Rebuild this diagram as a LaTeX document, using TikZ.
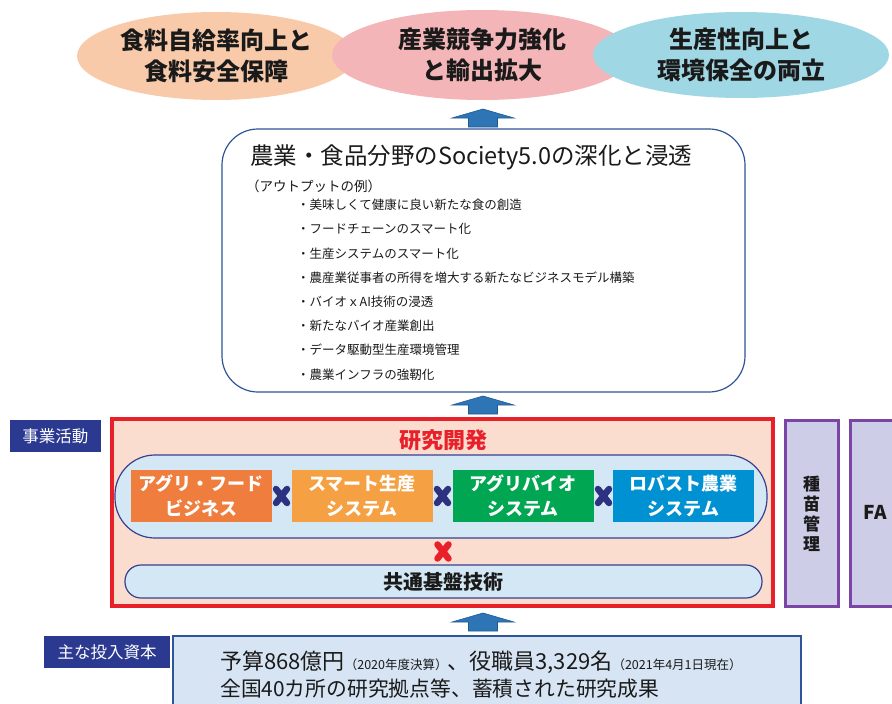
\documentclass[tikz,border=0pt]{standalone}
\usepackage{fontspec}
\setmainfont{Noto Sans CJK JP}
\usetikzlibrary{shapes.geometric}
\definecolor{peach}{HTML}{F8CAAA}
\definecolor{pinkel}{HTML}{F3B5B7}
\definecolor{cyanel}{HTML}{9FD7E4}
\definecolor{arrowblue}{HTML}{2E75B6}
\definecolor{arrowdark}{HTML}{1F5A96}
\definecolor{boxblue}{HTML}{2F5597}
\definecolor{navylab}{HTML}{2B3990}
\definecolor{redbox}{HTML}{E8202A}
\definecolor{pinkbg}{HTML}{FBDDD0}
\definecolor{pillblue}{HTML}{D3E8F4}
\definecolor{pillborder}{HTML}{3A3F8F}
\definecolor{orgA}{HTML}{EF7D3D}
\definecolor{orgB}{HTML}{F5A043}
\definecolor{grnC}{HTML}{00A651}
\definecolor{bluD}{HTML}{0091D3}
\definecolor{xnavy}{HTML}{2E3180}
\definecolor{purpborder}{HTML}{7A45A5}
\definecolor{lav}{HTML}{CDCDE8}
\definecolor{capblue}{HTML}{D6E4F3}
\definecolor{txt}{HTML}{1A1A1A}
\tikzset{
  goal/.style={ellipse, inner sep=0pt, align=center, text=txt,
    font=\fontsize{24}{31}\selectfont\bfseries},
  labelbox/.style={fill=navylab, text=white, inner sep=0pt,
    minimum width=91pt, minimum height=32pt, font=\fontsize{16.5}{18}\selectfont},
  rdbox/.style={rectangle, inner sep=0pt, minimum width=141pt, minimum height=52pt,
    text=white, align=center, font=\fontsize{18}{25}\selectfont\bfseries},
  itemtext/.style={anchor=west, inner sep=0pt, text=txt, font=\fontsize{12.5}{15}\selectfont},
  pill/.style={draw=pillborder, line width=1.2pt, fill=pillblue, inner sep=0pt},
  purpbox/.style={draw=purpborder, line width=3pt, fill=lav, inner sep=0pt,
    minimum height=186pt},
  uparrow/.pic={\filldraw[fill=arrowblue, draw=arrowdark, line width=0.6pt]
    (0,0) -- (31,9) -- (14.5,9) -- (14.5,18) -- (-14.5,18) -- (-14.5,9) -- (-31,9) -- cycle;},
  xmark/.pic={\draw[line width=6.5pt, line cap=round, pic actions]
    (-5.5,-7) -- (5.5,7) (-5.5,7) -- (5.5,-7);}
}
\begin{document}
\begin{tikzpicture}[x=1pt,y=-1pt]
\useasboundingbox[fill=white] (0,0) rectangle (892,704);

% goals
\node[goal, fill=peach, minimum width=278pt, minimum height=88pt] (g1) at (216,56) {食料自給率向上と\\食料安全保障};
\node[goal, fill=pinkel, minimum width=300pt, minimum height=90pt] (g2) at (482,55) {産業競争力強化\\と輸出拡大};
\node[goal, fill=cyanel, minimum width=296pt, minimum height=86pt] (g3) at (741,55) {生産性向上と\\環境保全の両立};

\pic at (483,109) {uparrow};

% outputs box
\node[draw=boxblue, line width=1.2pt, rounded corners=36pt, fill=white, inner sep=0pt,
  minimum width=523pt, minimum height=263pt] (out) at (483.5,260.5) {};
\node[anchor=west, inner sep=0pt, text=txt, font=\fontsize{23.5}{26}\selectfont] (title) at (250,157) {農業・食品分野のSociety5.0の深化と浸透};
\node[itemtext, font=\fontsize{13.5}{15}\selectfont] (ex) at (246,186) {（アウトプットの例）};
\node[itemtext] (i1) at (297,205) {・美味しくて健康に良い新たな食の創造};
\node[itemtext] (i2) at (297,229) {・フードチェーンのスマート化};
\node[itemtext] (i3) at (297,253.5) {・生産システムのスマート化};
\node[itemtext] (i4) at (297,278) {・農産業従事者の所得を増大する新たなビジネスモデル構築};
\node[itemtext] (i5) at (297,302) {・バイオｘAI技術の浸透};
\node[itemtext] (i6) at (297,326) {・新たなバイオ産業創出};
\node[itemtext] (i7) at (297,350) {・データ駆動型生産環境管理};
\node[itemtext] (i8) at (297,374.5) {・農業インフラの強靭化};

\pic at (483,396) {uparrow};

% business activities
\node[labelbox] (biz) at (55.5,436) {事業活動};
\node[draw=redbox, line width=3.5pt, fill=pinkbg, inner sep=0pt,
  minimum width=661pt, minimum height=187pt] (rd) at (442.5,512.5) {};
\node[text=redbox, inner sep=0pt, font=\fontsize{22}{24}\selectfont\bfseries] (rdt) at (443,440) {研究開発};
\node[pill, rounded corners=40pt, minimum width=652pt, minimum height=83pt] (p1) at (441,496.5) {};
\node[rdbox, fill=orgA] (b1) at (201,496) {アグリ・フード\\ビジネス};
\node[rdbox, fill=orgB] (b2) at (362,496) {スマート生産\\システム};
\node[rdbox, fill=grnC] (b3) at (523,496) {アグリバイオ\\システム};
\node[rdbox, fill=bluD] (b4) at (683.5,496) {ロバスト農業\\システム};
\pic[draw=xnavy] at (281.5,496) {xmark};
\pic[draw=xnavy] at (442.5,496) {xmark};
\pic[draw=xnavy] at (603.5,496) {xmark};
\pic[draw=redbox] at (443,551.5) {xmark};
\node[pill, rounded corners=16pt, minimum width=637pt, minimum height=33pt] (p2) at (443.5,581.5) {};
\node[inner sep=0pt, text=txt, font=\fontsize{20}{22}\selectfont\bfseries] (p2t) at (443.5,582) {共通基盤技術};

% right boxes
\node[purpbox, minimum width=53pt] (s1) at (811.5,513) {};
\node[inner sep=0pt, align=center, text=txt, font=\fontsize{17}{20}\selectfont\bfseries] (s1t) at (811.5,514) {種\\苗\\管\\理};
\node[purpbox, minimum width=60pt] (s2) at (880,513) {};
\node[inner sep=0pt, text=txt, font=\fontsize{19}{21}\selectfont\bfseries] (fa) at (875,512) {FA};

\pic at (483,613) {uparrow};

% capital
\node[labelbox, minimum width=126pt] (cap) at (107,652) {主な投入資本};
\node[draw=boxblue, line width=1.2pt, fill=capblue, inner sep=0pt,
  minimum width=628pt, minimum height=80pt] (capbox) at (487,676) {};
\node[anchor=west, inner sep=0pt, text=txt] (c1) at (220,662)
  {\fontsize{22}{24}\selectfont 予算868億円\fontsize{12.5}{14}\selectfont （2020年度決算）\fontsize{22}{24}\selectfont 、役職員3,329名\fontsize{12.5}{14}\selectfont （2021年4月1日現在）};
\node[anchor=west, inner sep=0pt, text=txt, font=\fontsize{20.8}{24}\selectfont] (c2) at (220,689) {全国40カ所の研究拠点等、蓄積された研究成果};
\end{tikzpicture}
\end{document}
